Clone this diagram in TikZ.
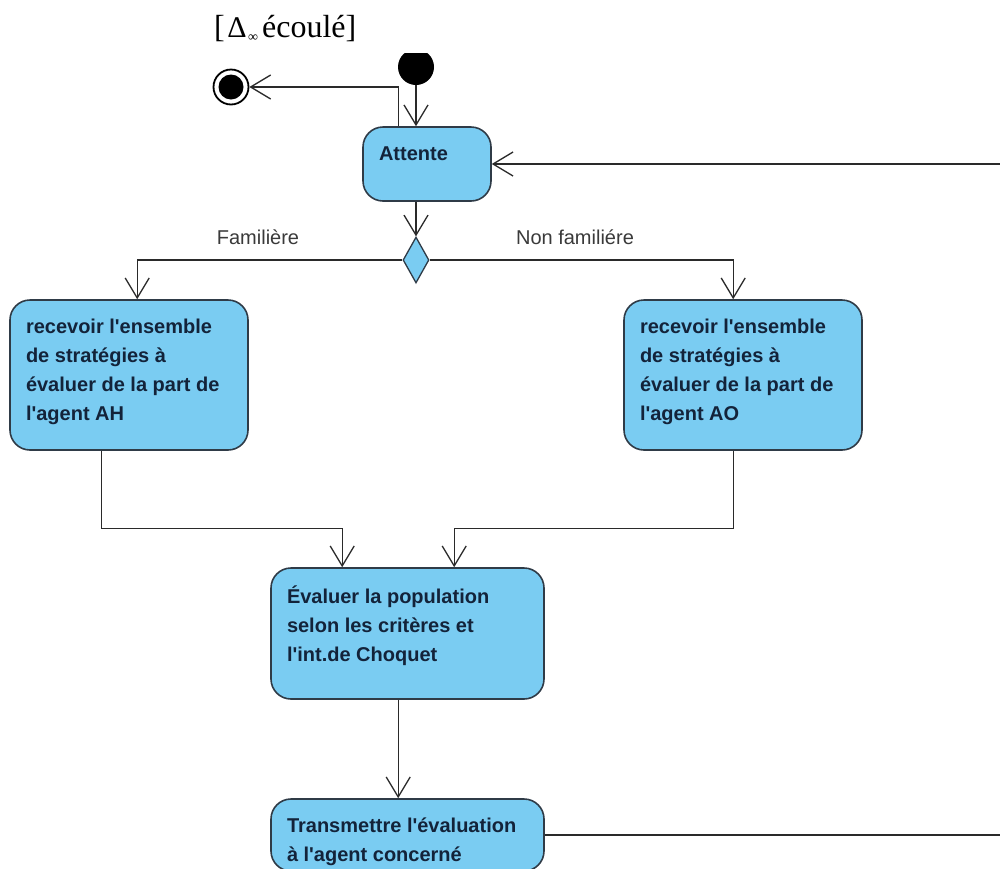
\documentclass[tikz,border=0pt]{standalone}
\usepackage{fontspec}
\setmainfont{Liberation Serif}
\newfontfamily\actfont{Liberation Sans}
\usetikzlibrary{arrows.meta,shapes.geometric}
\definecolor{actfill}{HTML}{7ACCF2}
\definecolor{actdraw}{HTML}{2F3B47}
\definecolor{acttext}{HTML}{13233A}
\definecolor{lblcol}{HTML}{3A3A3A}
\definecolor{linecol}{HTML}{2A2A2A}
\newcommand{\acttxt}[3]{\parbox[c][\dimexpr#2pt-36pt\relax][t]{\dimexpr#1pt-32pt\relax}{\raggedright\rule{0pt}{15pt}#3}}
\begin{document}
\begin{tikzpicture}[x=1pt,y=-1pt,
  act/.style={draw=actdraw, fill=actfill, line width=1.6, rounded corners=20,
    inner xsep=16, inner ysep=18, text=acttext,
    font=\actfont\bfseries\fontsize{20}{29}\selectfont},
  flow/.style={draw=linecol, line width=1.3,
    -{Straight Barb[length=20pt,width=24pt,line width=1.3pt]}},
  lbl/.style={text=lblcol, font=\actfont\fontsize{20}{24}\selectfont, inner sep=0}]
\useasboundingbox (0,0) rectangle (1000,868);
\clip (0,0) rectangle (1000,868);
\fill[white] (0,0) rectangle (1000,868);

% guard text
\node[anchor=base west, inner sep=0, font=\fontsize{32}{36}\selectfont] (guard) at (214,37)
  {[\hspace{2.5pt}{\fontsize{30}{32}\selectfont Δ}\hspace{1.5pt}\raisebox{-4.5pt}{\fontsize{14}{15}\selectfont ∞}\hspace{4pt}écoulé]};

% initial node (clipped at top)
\begin{scope}
  \clip (380,53) rectangle (450,120);
  \node[circle, fill=black, minimum size=36, inner sep=0] (init) at (416,67) {};
\end{scope}

% final node
\node[circle, draw=black, line width=1.8, minimum size=35, inner sep=0] (fin) at (231,87) {};
\node[circle, fill=black, minimum size=25, inner sep=0] (finin) at (fin) {};

% activities
\node[act] (att) at (427,164) {\acttxt{128}{74}{Attente}};
\node[diamond, draw=actdraw, fill=actfill, line width=1.3, minimum width=26, minimum height=46, inner sep=0] (dec) at (416,260) {};
\node[act] (ah) at (129,375) {\acttxt{238}{150}{recevoir l'ensemble\\ de stratégies à\\ évaluer de la part de\\ l'agent AH}};
\node[act] (ao) at (743,375) {\acttxt{238}{150}{recevoir l'ensemble\\ de stratégies à\\ évaluer de la part de\\ l'agent AO}};
\node[act] (ev) at (407.5,633.5) {\acttxt{273}{131}{Évaluer la population\\ selon les critères et\\ l'int.de Choquet}};
\node[act] (tr) at (407.5,835) {\acttxt{273}{72}{Transmettre l'évaluation\\ à l'agent concerné}};

% labels
\node[lbl] (lf) at (258,237) {Familière};
\node[lbl] (lnf) at (575,237) {Non familiére};

% connectors
\draw[flow] (init) -- (init |- att.north);
\draw[flow] ([xshift=36]att.north west) |- (fin);
\draw[flow] (att.south -| dec) -- (dec.north);
\draw[flow] (dec.west) -| ([xshift=128]ah.north west);
\draw[flow] (dec.east) -| ([xshift=110]ao.north west);
\draw[flow] ([xshift=92]ah.south west) -- ++(0,78) -| ([xshift=72]ev.north west);
\draw[flow] ([xshift=110]ao.south west) -- ++(0,78) -| ([xshift=184]ev.north west);
\draw[flow] ([xshift=128]ev.south west) -- ([xshift=128]tr.north west);
\coordinate (loop) at (1012,835);
\draw[flow] (tr.east) -- (loop) |- (att.east);
\end{tikzpicture}
\end{document}
